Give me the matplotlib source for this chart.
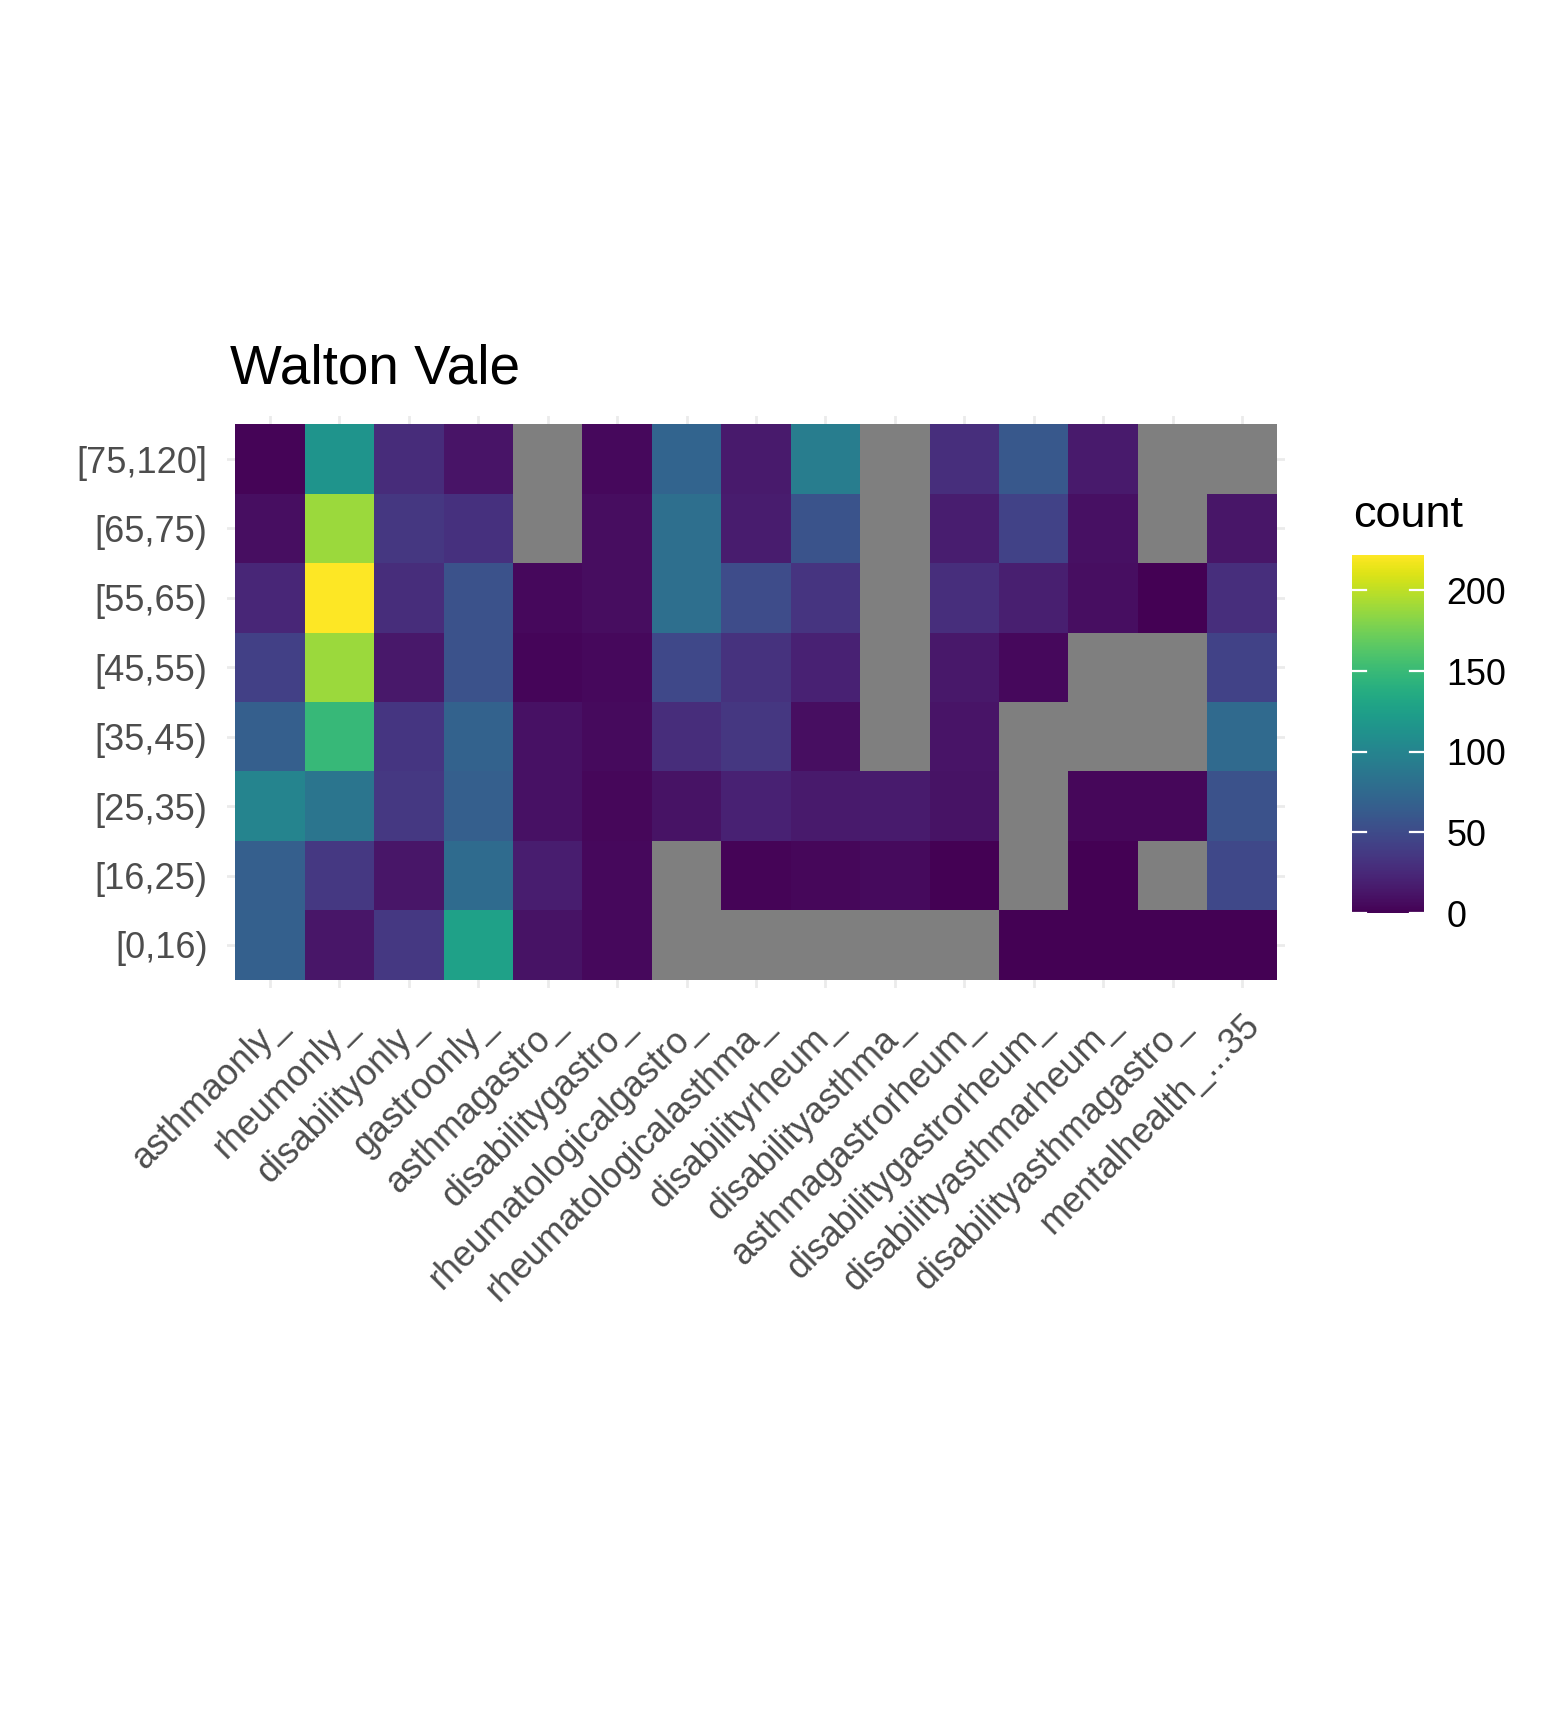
import numpy as np
import matplotlib
matplotlib.use("Agg")
import matplotlib.pyplot as plt
from matplotlib.colors import Normalize
import matplotlib.cm as cm

plt.rcParams['font.family'] = ['Liberation Sans', 'DejaVu Sans']

nan = np.nan
conditions = ["asthmaonly_", "rheumonly_", "disabilityonly_", "gastroonly_",
              "asthmagastro_", "disabilitygastro_", "rheumatologicalgastro_",
              "rheumatologicalasthma_", "disabilityrheum_", "disabilityasthma_",
              "asthmagastrorheum_", "disabilitygastrorheum_", "disabilityasthmarheum_",
              "disabilityasthmagastro_", "mentalhealth_...35"]
age_groups = ["[0,16)", "[16,25)", "[25,35)", "[35,45)", "[45,55)", "[55,65)", "[65,75)", "[75,120]"]

count_0_16   = [67, 13, 36, 126, 11, 5, nan, nan, nan, nan, nan, 0, 0, 0, 0]
count_16_25  = [66, 36, 13, 77, 18, 5, nan, 2, 4, 6, 0, nan, 0, nan, 48]
count_25_35  = [100, 86, 36, 66, 10, 4, 11, 20, 15, 16, 11, nan, 4, 4, 56]
count_35_45  = [66, 149, 34, 69, 10, 6, 28, 35, 8, nan, 12, nan, nan, nan, 76]
count_45_55  = [42, 189, 14, 56, 3, 5, 48, 32, 20, nan, 14, 5, nan, nan, 44]
count_55_65  = [24, 222, 28, 56, 5, 7, 80, 51, 33, nan, 29, 19, 8, 0, 29]
count_65_75  = [8, 189, 35, 31, nan, 7, 80, 17, 57, nan, 18, 44, 9, nan, 13]
count_75_120 = [2, 115, 27, 12, nan, 5, 71, 15, 93, nan, 29, 60, 15, nan, nan]

grid = np.array([count_0_16, count_16_25, count_25_35, count_35_45,
                 count_45_55, count_55_65, count_65_75, count_75_120], dtype=float)
masked = np.ma.masked_invalid(grid)

W, H = 1553, 1709
fig = plt.figure(figsize=(W / 100, H / 100), dpi=100)

def px_axes(x0, y0, x1, y1):
    return fig.add_axes([x0 / W, 1 - y1 / H, (x1 - x0) / W, (y1 - y0) / H])

e = 0.12
ax = px_axes(227, 416, 1285, 988)
ncol, nrow = len(conditions), len(age_groups)
ax.set_xlim(-0.5 - e, ncol - 0.5 + e)
ax.set_ylim(-0.5 - e, nrow - 0.5 + e)

for i in range(ncol):
    ax.axvline(i, color="#ebebeb", lw=2.0, zorder=0)
for j in range(nrow):
    ax.axhline(j, color="#ebebeb", lw=2.0, zorder=0)

cmap = matplotlib.colormaps['viridis'].copy()
cmap.set_bad("#7f7f7f")
norm = Normalize(vmin=0, vmax=np.nanmax(grid))
xe = np.arange(ncol + 1) - 0.5
ye = np.arange(nrow + 1) - 0.5
ax.pcolormesh(xe, ye, masked, cmap=cmap, norm=norm, zorder=1, edgecolors='none', antialiased=False)

for s in ax.spines.values():
    s.set_visible(False)
ax.set_xticks(range(ncol))
ax.set_xticklabels(conditions, rotation=45, ha='right', va='top', rotation_mode='anchor',
                   fontsize=25.8, color="#4d4d4d")
ax.set_yticks(range(nrow))
ax.set_yticklabels(age_groups, fontsize=26, color="#4d4d4d")
ax.tick_params(length=0, pad=14)
ax.tick_params(axis='x', pad=14)

fig.text(230 / W, 1 - 383 / H, "Walton Vale", fontsize=39.5, color="black",
         ha='left', va='baseline')

cax = px_axes(1352, 555, 1424, 913)
cb = fig.colorbar(cm.ScalarMappable(norm=norm, cmap=cmap), cax=cax)
cb.outline.set_visible(False)
cax.tick_params(length=0, pad=16, labelsize=25.8, labelcolor="black")
ticks = [0, 50, 100, 150, 200]
cb.set_ticks(ticks)
for t in ticks:
    cax.plot([0, 0.2], [t, t], color="white", lw=1.6, transform=cax.get_yaxis_transform())
    cax.plot([0.8, 1.0], [t, t], color="white", lw=1.6, transform=cax.get_yaxis_transform())
fig.text(1353 / W, 1 - 527 / H, "count", fontsize=32.5, color="black", ha='left', va='baseline')

fig.savefig("out.png", dpi=100, facecolor="white")
